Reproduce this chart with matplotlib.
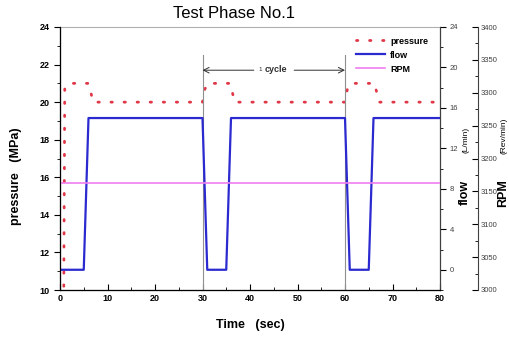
import matplotlib
matplotlib.use('Agg')
import matplotlib.pyplot as plt
from matplotlib.ticker import MultipleLocator

plt.rcParams['font.family'] = ['Liberation Sans', 'DejaVu Sans']

# pressure (MPa), dotted red
t_press = [0.8, 1.0, 1.8, 6.0, 7.0, 30.0, 30.5, 31.2, 35.8, 36.8, 60.0, 60.5, 61.2, 66.2, 67.2, 80.0]
pressure = [10.2, 20.7, 21.0, 21.0, 20.0, 20.0, 20.7, 21.0, 21.0, 20.0, 20.0, 20.7, 21.0, 21.0, 20.0, 20.0]

# flow (L/min), blue
t_flow = [0, 5, 6, 30, 31, 35, 36, 60, 61, 65, 66, 80]
flow = [0, 0, 15, 15, 0, 0, 15, 15, 0, 0, 15, 15]

# RPM, constant
t_rpm = [0, 80]
rpm = [3162, 3162]

cycle_marks = [30, 60]

fig = plt.figure(figsize=(5.1, 3.37), dpi=100)
ax = fig.add_axes([60/510, 1-290/337, 380/510, 263/337])
ax2 = ax.twinx()
ax3 = ax.twinx()

# pressure on main axis
l1, = ax.plot(t_press, pressure, color='#e03848', lw=2.0, linestyle=(0, (0.5, 4.2)),
              dash_capstyle='round', label='pressure')
for x in cycle_marks:
    ax.plot([x, x], [10, 22.5], color='#909090', lw=0.8)

ax.set_xlim(0, 80)
ax.set_ylim(10, 24)
ax.xaxis.set_major_locator(MultipleLocator(10))
ax.xaxis.set_minor_locator(MultipleLocator(5))
ax.yaxis.set_major_locator(MultipleLocator(2))
ax.yaxis.set_minor_locator(MultipleLocator(1))
ax.tick_params(axis='x', which='both', direction='in', labelsize=6.5, pad=3)
ax.tick_params(axis='x', which='major', length=4)
ax.tick_params(axis='x', which='minor', length=2.5)
ax.tick_params(axis='y', which='major', direction='out', length=4, labelsize=6.5)
ax.tick_params(axis='y', which='minor', direction='out', length=2)
for lab in ax.get_xticklabels() + ax.get_yticklabels():
    lab.set_fontweight('bold')
ax.spines['top'].set_color('#b0b0b0')
ax.spines['left'].set_color('#404040')
ax.spines['bottom'].set_color('#404040')

# 1 cycle annotation
ax.annotate('', xy=(30, 21.7), xytext=(40.8, 21.7),
            arrowprops=dict(arrowstyle='->', color='#303030', lw=0.7, shrinkA=0, shrinkB=0))
ax.annotate('', xy=(60, 21.7), xytext=(49.3, 21.7),
            arrowprops=dict(arrowstyle='->', color='#303030', lw=0.7, shrinkA=0, shrinkB=0))
ax.text(41.8, 21.72, '1', fontsize=4.5, va='center', ha='left', color='#303030')
ax.text(43.0, 21.72, 'cycle', fontsize=6.5, fontweight='bold', va='center', ha='left', color='#303030')

# flow on right axis
l2, = ax2.plot(t_flow, flow, color='#2a2ad0', lw=1.6, label='flow')
ax2.set_ylim(-2, 24)
ax2.yaxis.set_major_locator(MultipleLocator(4))
ax2.yaxis.set_minor_locator(MultipleLocator(2))
ax2.set_yticks([0, 4, 8, 12, 16, 20, 24])
ax2.tick_params(axis='y', which='major', direction='out', length=4, labelsize=5.5,
                labelcolor='#404040', pad=3)
ax2.tick_params(axis='y', which='minor', direction='out', length=2)
ax2.spines['right'].set_color('#404040')

# RPM on offset axis
l3, = ax3.plot(t_rpm, rpm, color='#f07ef0', lw=1.2, label='RPM')
ax3.set_ylim(3000, 3400)
ax3.spines['right'].set_position(('axes', (478-60)/380))
ax3.spines['right'].set_color('#404040')
ax3.yaxis.set_major_locator(MultipleLocator(50))
ax3.yaxis.set_minor_locator(MultipleLocator(25))
ax3.tick_params(axis='y', which='major', direction='in', length=4, labelsize=5.5,
                labelcolor='#404040', pad=2)
ax3.tick_params(axis='y', which='minor', direction='in', length=2)
for a in (ax2, ax3):
    a.spines['top'].set_visible(False)

ax.legend(handles=[l1, l2, l3], loc='upper left', bbox_to_anchor=((352-60)/380, 1-(33-27)/263),
          frameon=False, prop={'weight': 'bold', 'size': 6.5},
          handlelength=3.2, handletextpad=0.6, labelspacing=0.55, borderaxespad=0)

# titles and labels
fig.text(234/510, 1-13/337, 'Test Phase No.1', fontsize=12, ha='center', va='center')
fig.text(250/510, 1-325/337, 'Time   (sec)', fontsize=9, fontweight='bold', ha='center', va='center')
fig.text(16/510, 1-176/337, 'pressure   (MPa)', fontsize=9, fontweight='bold', rotation=90,
         ha='center', va='center')
fig.text(465/510, 1-192/337, 'flow', fontsize=9, fontweight='bold', rotation=90, ha='center', va='center')
fig.text(466/510, 1-140/337, '(L/min)', fontsize=6, rotation=90, ha='center', va='center')
fig.text(503/510, 1-193/337, 'RPM', fontsize=9, fontweight='bold', rotation=90, ha='center', va='center')
fig.text(504/510, 1-136/337, '(Rev/min)', fontsize=6, rotation=90, ha='center', va='center')

fig.savefig('out.png', dpi=100)
